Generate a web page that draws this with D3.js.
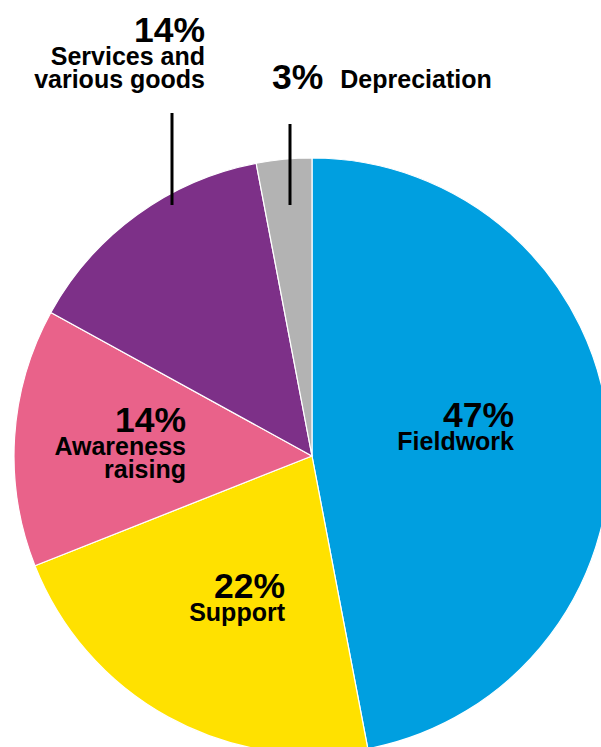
<!DOCTYPE html>
<html lang="en">
<head>
  <meta charset="UTF-8">
  <title>Expenses</title>
  <script src="https://cdn.jsdelivr.net/npm/d3@7"></script>
  <style>
    body { margin: 0; background: #fff; }
    svg { display: block; }
    .pct { font-family: "Liberation Sans", Arial, sans-serif; font-weight: bold; font-size: 35.5px; fill: #000; }
    .lbl { font-family: "Liberation Sans", Arial, sans-serif; font-weight: bold; font-size: 25px; fill: #000; }
    .leader { stroke: #000; stroke-width: 3; }
  </style>
</head>
<body>
<svg width="601" height="747"></svg>
<script>
  // data
  const categories = ["Fieldwork", "Support", "Awareness raising", "Services and various goods", "Depreciation"];
  const shares = [47, 22, 14, 14, 3];
  const colors = ["#009fe0", "#ffe100", "#e9628a", "#7d3088", "#b3b3b3"];
  // label lines (as printed)
  const labelLines = [["Fieldwork"], ["Support"], ["Awareness", "raising"], ["Services and", "various goods"], ["Depreciation"]];

  const svg = d3.select("svg");
  const cx = 312, cy = 456, radius = 298;

  const pie = d3.pie().sort(null).value(d => d);
  const arc = d3.arc().innerRadius(0).outerRadius(radius);
  const arcs = pie(shares);

  const g = svg.append("g").attr("transform", `translate(${cx},${cy})`);

  g.selectAll("path.slice")
    .data(arcs)
    .join("path")
    .attr("class", "slice")
    .attr("d", arc)
    .attr("fill", (d, i) => colors[i])
    .attr("stroke", "#fff")
    .attr("stroke-width", 1.2);

  // label placement (relative to pie centre): x = right edge (or left for inline), y = baseline of the %
  const layout = [
    { x: 202, y: -29, anchor: "end" },
    { x: -27, y: 142, anchor: "end" },
    { x: -126, y: -24, anchor: "end" },
    { x: -107, y: -414, anchor: "end", leader: [-140, -343, -251] },
    { x: -40, y: -367, anchor: "start", inline: true, leader: [-22, -332, -251] }
  ];

  arcs.forEach((a, i) => {
    const L = layout[i];
    const t = g.append("g");
    const pct = t.append("text")
      .attr("class", "pct")
      .attr("x", L.x).attr("y", L.y)
      .attr("text-anchor", L.anchor)
      .text(shares[i] + "%");
    if (L.inline) {
      const w = pct.node().getComputedTextLength();
      t.append("text")
        .attr("class", "lbl")
        .attr("x", L.x + w + 17).attr("y", L.y - 1)
        .text(labelLines[i][0]);
    } else {
      labelLines[i].forEach((line, k) => {
        t.append("text")
          .attr("class", "lbl")
          .attr("x", L.x).attr("y", L.y + 23 + k * 23)
          .attr("text-anchor", L.anchor)
          .text(line);
      });
    }
    if (L.leader) {
      g.append("line")
        .attr("class", "leader")
        .attr("x1", L.leader[0]).attr("x2", L.leader[0])
        .attr("y1", L.leader[1]).attr("y2", L.leader[2]);
    }
  });
</script>
</body>
</html>
